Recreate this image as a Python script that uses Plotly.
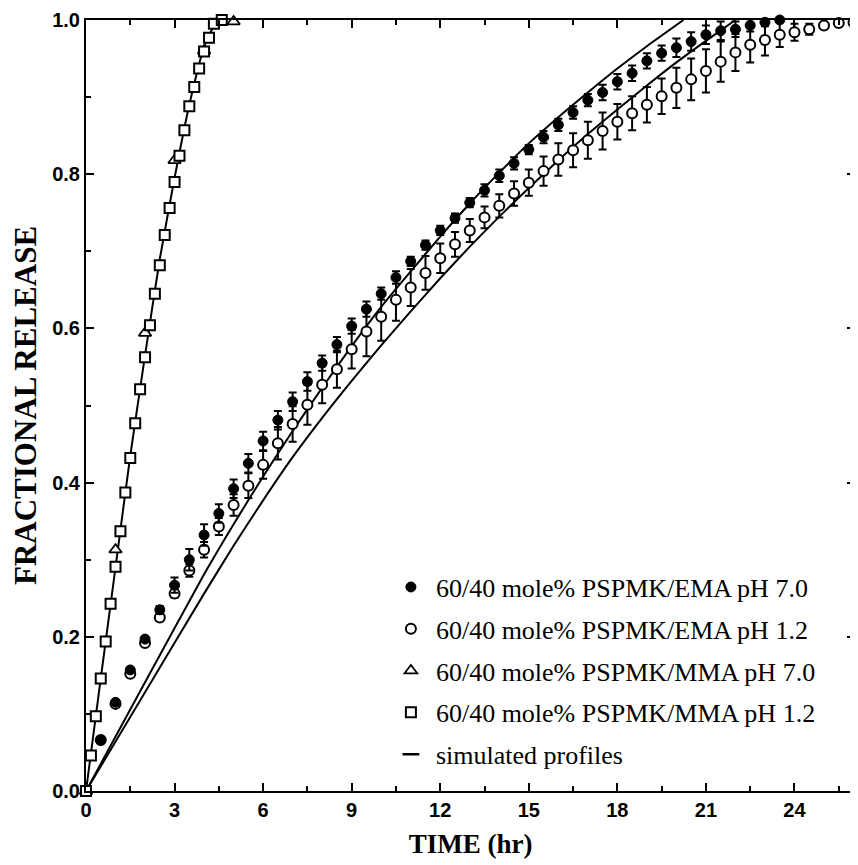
import plotly.graph_objects as go

# ---------------- data ----------------
t_ema_70 = [i * 0.5 for i in range(48)]          # 0 .. 23.5 h
y_ema_70 = [0.0, 0.066, 0.115, 0.157, 0.197, 0.235, 0.267, 0.300, 0.332, 0.360,
            0.392, 0.425, 0.454, 0.481, 0.505, 0.531, 0.555, 0.579, 0.603, 0.625,
            0.645, 0.666, 0.687, 0.708, 0.727, 0.743, 0.763, 0.779, 0.798, 0.814,
            0.832, 0.848, 0.864, 0.880, 0.896, 0.906, 0.920, 0.931, 0.947, 0.957,
            0.964, 0.972, 0.981, 0.986, 0.988, 0.993, 0.997, 1.000]
e_ema_70 = [0, 0, 0, 0, 0, 0.005, 0.010, 0.014, 0.014, 0.012,
            0.012, 0.012, 0.012, 0.012, 0.012, 0.012, 0.010, 0.010, 0.010, 0.010,
            0.008, 0.008, 0.006, 0.006, 0.006, 0.006, 0.006, 0.008, 0.008, 0.008,
            0.006, 0.008, 0.008, 0.008, 0.008, 0.010, 0.010, 0.010, 0.010, 0.010,
            0.012, 0.012, 0.012, 0.012, 0.010, 0.008, 0.005, 0]

t_ema_12 = [i * 0.5 for i in range(53)]          # 0 .. 26 h
y_ema_12 = [0.0, 0.066, 0.113, 0.152, 0.192, 0.225, 0.256, 0.286, 0.313, 0.343,
            0.371, 0.396, 0.423, 0.451, 0.476, 0.501, 0.527, 0.547, 0.573, 0.596,
            0.615, 0.637, 0.653, 0.672, 0.691, 0.709, 0.727, 0.744, 0.759, 0.775,
            0.789, 0.804, 0.819, 0.831, 0.844, 0.856, 0.868, 0.879, 0.890, 0.901,
            0.912, 0.923, 0.934, 0.946, 0.958, 0.968, 0.974, 0.981, 0.984, 0.988,
            0.993, 0.996, 0.997]
e_ema_12 = [0, 0, 0, 0, 0, 0.004, 0.005, 0.008, 0.010, 0.011,
            0.014, 0.016, 0.018, 0.021, 0.023, 0.026, 0.024, 0.024, 0.025, 0.032,
            0.031, 0.027, 0.024, 0.022, 0.019, 0.016, 0.015, 0.014, 0.015, 0.016,
            0.017, 0.019, 0.021, 0.022, 0.024, 0.024, 0.023, 0.022, 0.023, 0.023,
            0.026, 0.027, 0.028, 0.026, 0.024, 0.023, 0.020, 0.016, 0.011, 0.007,
            0.004, 0.002, 0]

t_mma_70 = [0, 1, 2, 3, 4, 5]
y_mma_70 = [0.0, 0.313, 0.594, 0.818, 0.960, 0.998]

t_mma_12 = [0, 0.167, 0.333, 0.5, 0.667, 0.833, 1.0, 1.167, 1.333, 1.5, 1.667,
            1.833, 2.0, 2.167, 2.333, 2.5, 2.667, 2.833, 3.0, 3.167, 3.333, 3.5,
            3.667, 3.833, 4.0, 4.167, 4.333, 4.6]
y_mma_12 = [0.0, 0.046, 0.097, 0.146, 0.194, 0.243, 0.291, 0.337, 0.387, 0.432,
            0.477, 0.521, 0.5625, 0.604, 0.645, 0.682, 0.721, 0.756, 0.790, 0.824,
            0.857, 0.888, 0.913, 0.937, 0.959, 0.977, 0.995, 1.0]

# simulated profiles
t_sim_mma = [0, 0.5, 1.0, 1.5, 2.0, 2.5, 3.0, 3.5, 4.0, 4.42]
y_sim_mma = [0, 0.146, 0.29, 0.435, 0.565, 0.69, 0.795, 0.89, 0.965, 1.0]

t_sim_ema_a = [0, 2, 4, 5, 6, 7, 8, 9, 10, 11, 12, 13, 14, 15, 16, 17, 18, 19, 20.24]
y_sim_ema_a = [0, 0.141, 0.281, 0.346, 0.408, 0.467, 0.523, 0.577, 0.628, 0.674,
               0.719, 0.762, 0.802, 0.840, 0.874, 0.906, 0.937, 0.966, 1.0]

t_sim_ema_b = [0, 2, 4, 5, 6, 7, 8, 9, 10, 11, 12, 13, 14, 15, 16, 17, 18, 19, 20, 21, 22]
y_sim_ema_b = [0, 0.128, 0.256, 0.318, 0.377, 0.433, 0.484, 0.532, 0.578, 0.622, 0.665,
               0.706, 0.745, 0.782, 0.818, 0.852, 0.884, 0.915, 0.945, 0.973, 1.0]

x_ticks = [0, 3, 6, 9, 12, 15, 18, 21, 24]
y_ticks = [0.0, 0.2, 0.4, 0.6, 0.8, 1.0]

# ---------------- figure ----------------
fig = go.Figure()
line_style = dict(color="black", width=2, shape="spline", smoothing=0.5)
for tx, ty in [(t_sim_mma, y_sim_mma), (t_sim_ema_a, y_sim_ema_a), (t_sim_ema_b, y_sim_ema_b)]:
    fig.add_trace(go.Scatter(x=tx, y=ty, mode="lines", line=line_style,
                             showlegend=False, hoverinfo="skip", cliponaxis=False))

err_style = dict(type="data", thickness=2, width=4, color="black")

fig.add_trace(go.Scatter(
    x=t_ema_12, y=y_ema_12, mode="markers", name="60/40 mole% PSPMK/EMA pH 1.2",
    error_y=dict(array=e_ema_12, **err_style), legendrank=2, legendgroup="b",
    marker=dict(symbol="circle", size=10, color="white", line=dict(color="black", width=2)),
    cliponaxis=False))
fig.add_trace(go.Scatter(
    x=t_ema_70, y=y_ema_70, mode="markers", name="60/40 mole% PSPMK/EMA pH 7.0",
    error_y=dict(array=e_ema_70, **err_style), legendrank=1, legendgroup="a",
    marker=dict(symbol="circle", size=10, color="black", line=dict(color="black", width=1)),
    cliponaxis=False))
fig.add_trace(go.Scatter(
    x=t_mma_70, y=y_mma_70, mode="markers", name="60/40 mole% PSPMK/MMA pH 7.0",
    legendrank=3, legendgroup="c",
    marker=dict(symbol="triangle-up", size=11, color="white", line=dict(color="black", width=1.8)),
    cliponaxis=False))
fig.add_trace(go.Scatter(
    x=t_mma_12, y=y_mma_12, mode="markers", name="60/40 mole% PSPMK/MMA pH 1.2",
    legendrank=4, legendgroup="d",
    marker=dict(symbol="square", size=10, color="white", line=dict(color="black", width=2)),
    cliponaxis=False))
fig.add_trace(go.Scatter(
    x=[None], y=[None], mode="markers", name="simulated profiles",
    legendrank=5, legendgroup="e",
    marker=dict(symbol="line-ew", size=12, color="black", line=dict(color="black", width=2.5))))

tickfont = dict(family="Liberation Sans, Arial", size=20, color="black", weight="bold")
axis_common = dict(showline=True, linecolor="black", linewidth=2, mirror="ticks",
                   ticks="inside", ticklen=8, tickwidth=2, tickcolor="black",
                   showgrid=False, zeroline=False, tickfont=tickfont, automargin=False)

fig.update_xaxes(range=[0, 26.05], tickvals=x_ticks, ticktext=[str(v) for v in x_ticks],
                 minor=dict(dtick=1.5, tick0=0, ticks="inside", ticklen=5, tickwidth=1.5,
                            tickcolor="black", showgrid=False),
                 title=dict(text="<b>TIME (hr)</b>", standoff=14,
                            font=dict(family="Liberation Serif", size=27, color="black")),
                 **axis_common)
fig.update_yaxes(range=[0, 1.0], tickvals=y_ticks, ticktext=[f"{v:.1f}" for v in y_ticks],
                 minor=dict(dtick=0.1, tick0=0, ticks="inside", ticklen=5, tickwidth=1.5,
                            tickcolor="black", showgrid=False),
                 title=dict(text="<b>FRACTIONAL RELEASE</b>", standoff=9,
                            font=dict(family="Liberation Serif", size=31, color="black")),
                 **axis_common)

# the page adds an 8px body margin, so the figure is drawn 8px smaller and offset
fig.update_layout(
    width=850, height=857,
    margin=dict(l=78, r=3, t=12, b=74),
    plot_bgcolor="white", paper_bgcolor="white",
    legend=dict(x=0.39, y=0.295, xanchor="left", yanchor="top",
                font=dict(family="Liberation Serif", size=26, color="black"),
                bgcolor="rgba(0,0,0,0)", tracegroupgap=5, itemwidth=40),
)

fig.write_html("out.html")
